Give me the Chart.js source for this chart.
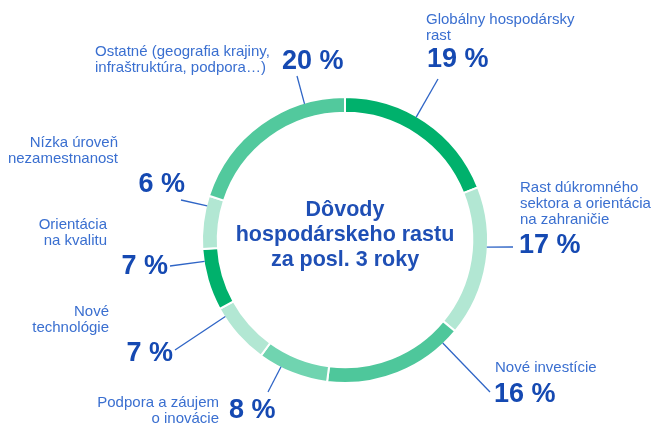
<!DOCTYPE html>
<html>
<head>
<meta charset="utf-8">
<script src="https://cdn.jsdelivr.net/npm/chart.js@4/dist/chart.umd.min.js"></script>
<style>
  html, body { margin: 0; padding: 0; background: #ffffff; }
  #wrap { width: 651px; height: 427px; position: relative; }
</style>
</head>
<body>
<div id="wrap"><canvas id="c"></canvas></div>
<script>
// ---- data ----
const categories = [
  "Globálny hospodársky rast",
  "Rast dúkromného sektora a orientácia na zahraničie",
  "Nové investície",
  "Podpora a záujem o inovácie",
  "Nové technológie",
  "Orientácia na kvalitu",
  "Nízka úroveň nezamestnanost",
  "Ostatné (geografia krajiny, infraštruktúra, podpora...)"
];
const values = [19, 17, 16, 8, 7, 7, 6, 20];
const valueLabels = ["19 %", "17 %", "16 %", "8 %", "7 %", "7 %", "6 %", "20 %"];
const labelLines = [
  ["Globálny hospodársky", "rast"],
  ["Rast dúkromného", "sektora a orientácia", "na zahraničie"],
  ["Nové investície"],
  ["Podpora a záujem", "o inovácie"],
  ["Nové", "technológie"],
  ["Orientácia", "na kvalitu"],
  ["Nízka úroveň", "nezamestnanost"],
  ["Ostatné (geografia krajiny,", "infraštruktúra, podpora…)"]
];
const centerTitle = ["Dôvody", "hospodárskeho rastu", "za posl. 3 roky"];

// ---- styling / layout (not data) ----
const segColors = ["#00b16c", "#b2e7d3", "#4ec79b", "#70d4b0", "#b2e7d3", "#00b16c", "#b2e7d3", "#52c99d"];
const annot = [
  { t: 0.44, end: [438, 79],  name: { x: 426, y: 20,  align: "left" },  pct: { x: 427, y: 60,  align: "left" } },
  { t: 0.40, end: [513, 247], name: { x: 520, y: 188, align: "left" },  pct: { x: 519, y: 246, align: "left" } },
  { t: 0.12, end: [490, 392], name: { x: 495, y: 368, align: "left" },  pct: { x: 494, y: 395, align: "left" } },
  { t: 0.68, end: [268, 392], name: { x: 219, y: 403, align: "right" }, pct: { x: 229, y: 411, align: "left" } },
  { t: 0.85, end: [175, 350], name: { x: 109, y: 312, align: "right" }, pct: { x: 173, y: 354, align: "right" } },
  { t: 0.80, end: [170, 266], name: { x: 107, y: 225, align: "right" }, pct: { x: 168, y: 267, align: "right" } },
  { t: 0.81, end: [181, 200], name: { x: 118, y: 143, align: "right" }, pct: { x: 185, y: 185, align: "right" } },
  { t: 0.77, end: [297, 76],  name: { x: 95,  y: 52,  align: "left" },  pct: { x: 282, y: 62,  align: "left" } }
];
const FONT = '"Liberation Sans", Arial, Helvetica, sans-serif';
const nameColor = "#3a6fd0";
const pctColor = "#1549b2";
const lineColor = "#2f65c6";

const annotPlugin = {
  id: "annot",
  afterDatasetsDraw(chart) {
    const ctx = chart.ctx;
    const meta = chart.getDatasetMeta(0);
    ctx.save();
    const a0 = meta.data[0];
    ctx.fillStyle = "#1f4fb5";
    ctx.font = "bold 21.5px " + FONT;
    ctx.textAlign = "center";
    ctx.textBaseline = "middle";
    centerTitle.forEach((s, i) => ctx.fillText(s, a0.x, a0.y - 30 + i * 25));

    meta.data.forEach((arc, i) => {
      const an = annot[i];
      const ang = arc.startAngle + an.t * (arc.endAngle - arc.startAngle);
      const r = arc.outerRadius - 1;
      const sx = arc.x + r * Math.cos(ang);
      const sy = arc.y + r * Math.sin(ang);
      ctx.strokeStyle = lineColor;
      ctx.lineWidth = 1.3;
      ctx.beginPath();
      ctx.moveTo(sx, sy);
      ctx.lineTo(an.end[0], an.end[1]);
      ctx.stroke();

      ctx.fillStyle = nameColor;
      ctx.font = "15px " + FONT;
      ctx.textAlign = an.name.align;
      ctx.textBaseline = "middle";
      labelLines[i].forEach((s, k) => ctx.fillText(s, an.name.x, an.name.y + k * 16));

      ctx.fillStyle = pctColor;
      ctx.font = "bold 27px " + FONT;
      ctx.textAlign = an.pct.align;
      ctx.fillText(valueLabels[i], an.pct.x, an.pct.y);
    });
    ctx.restore();
  }
};

new Chart(document.getElementById("c"), {
  type: "doughnut",
  data: {
    labels: categories,
    datasets: [{
      data: values,
      backgroundColor: segColors,
      borderColor: "#ffffff",
      borderWidth: 2,
      hoverOffset: 0
    }]
  },
  options: {
    responsive: true,
    maintainAspectRatio: false,
    animation: false,
    cutout: "89%",
    layout: { padding: { top: 96, bottom: 43, left: 201, right: 162 } },
    plugins: {
      legend: { display: false },
      tooltip: { enabled: false }
    }
  },
  plugins: [annotPlugin]
});
</script>
</body>
</html>
